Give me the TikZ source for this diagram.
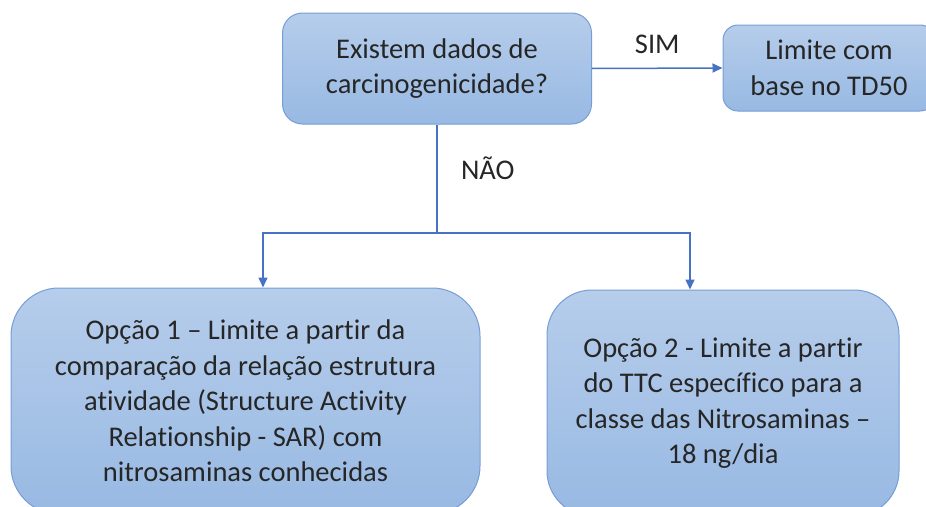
\documentclass[tikz,border=0pt]{standalone}
\usepackage{fontspec}
\setmainfont[Ligatures=NoCommon]{Carlito}
\usetikzlibrary{arrows.meta, positioning}
\definecolor{boxtop}{RGB}{182,205,235}
\definecolor{boxbot}{RGB}{152,185,227}
\definecolor{boxline}{RGB}{118,158,214}
\definecolor{linkblue}{RGB}{72,114,196}
\definecolor{txtgray}{RGB}{38,38,38}

\begin{document}
\begin{tikzpicture}[x=1pt,y=-1pt,
    box/.style={draw=boxline,line width=1pt,top color=boxtop,bottom color=boxbot,
                align=center,inner sep=0pt,text=txtgray,
                font=\fontsize{28.5}{35.5}\selectfont},
    link/.style={draw=linkblue,line width=1.5pt},
    arr/.style={link,-{Triangle[length=10pt,width=9pt]}},
    lbl/.style={text=txtgray,font=\fontsize{28.5}{34}\selectfont}
]
  \useasboundingbox (0,0) rectangle (926,506);
  \clip (0,0) rectangle (926,506);

  % Question
  \node[box,rounded corners=20pt,minimum width=309pt,minimum height=111pt]
    (q) at (437,68.5) {Existem dados de\\carcinogenicidade?};
  % Yes
  \node[box,rounded corners=15pt,minimum width=212pt,minimum height=86pt]
    (td50) at (829,68) {Limite com\\base no TD50};
  % Options
  \node[box,rounded corners=48pt,minimum width=469pt,minimum height=226pt]
    (opt1) at (245.5,401) {Opção 1 -- Limite a partir da\\comparação da relação estrutura\\atividade (Structure Activity\\Relationship - SAR) com\\nitrosaminas conhecidas};
  \node[box,rounded corners=45pt,minimum width=352pt,minimum height=226pt]
    (opt2) at (723,403) {Opção 2 - Limite a partir\\do TTC específico para a\\classe das Nitrosaminas --\\18 ng/dia};

  % Connectors
  \coordinate (split) at (437,233);
  \draw[arr] (q.east) -- (td50.west) node[lbl,midway,above=10pt] {SIM};
  \draw[link] (q.south) -- (split) node[lbl,pos=0.40,right=20pt] {NÃO};
  \draw[arr] (split) -| ([xshift=17.5pt]opt1.north);
  \draw[arr] (split) -| ([xshift=-33pt]opt2.north);
\end{tikzpicture}
\end{document}
